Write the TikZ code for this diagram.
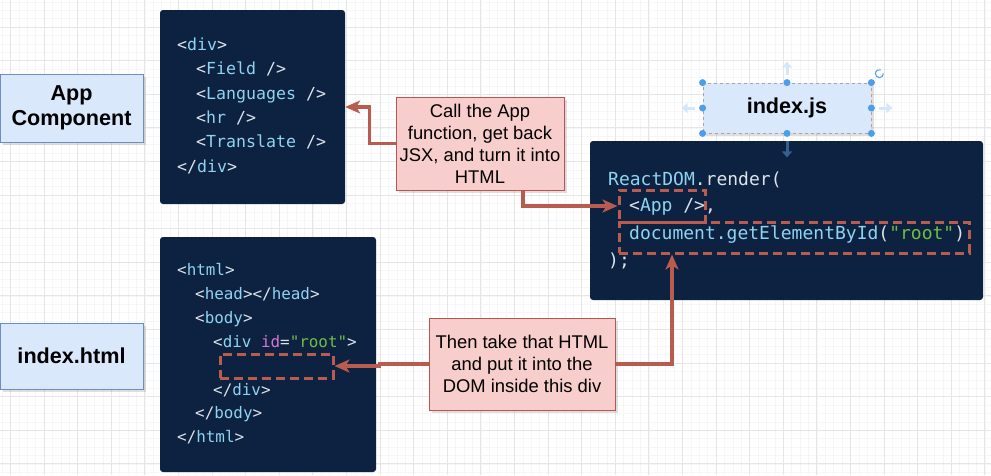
\documentclass[tikz,border=0pt]{standalone}
\usepackage{fontspec}
\setmainfont{Liberation Sans}
\newfontfamily\codefont{DejaVu Sans Mono}
\usetikzlibrary{arrows.meta,shadows}

\definecolor{navy}{HTML}{0C2240}
\definecolor{tagcol}{HTML}{8FD3F2}
\definecolor{plaincol}{HTML}{DDE3EA}
\definecolor{strcol}{HTML}{6EBE45}
\definecolor{attrcol}{HTML}{D971D6}
\definecolor{redline}{HTML}{B85C4F}
\definecolor{pinkfill}{HTML}{F8CECC}
\definecolor{pinkline}{HTML}{B85450}
\definecolor{bluefill}{HTML}{DAE8FC}
\definecolor{blueline}{HTML}{6C8EBF}
\definecolor{handleblue}{HTML}{4A9FE8}
\definecolor{handlefaint}{HTML}{D4E7F8}
\definecolor{handledark}{HTML}{36608F}
\definecolor{gridminor}{HTML}{F6F6F6}
\definecolor{gridmajor}{HTML}{E6E6E6}

\newcommand\tg[1]{\textcolor{tagcol}{#1}}
\newcommand\strg[1]{\textcolor{strcol}{#1}}
\newcommand\attrg[1]{\textcolor{attrcol}{#1}}

\tikzset{
  codeblock/.style={fill=navy, rounded corners=3pt, inner sep=0pt},
  codeline/.style={anchor=west, inner sep=0pt, text=plaincol, text height=0.85em, text depth=0.15em},
  title/.style={draw=blueline, fill=bluefill, line width=1pt, align=center,
    font=\fontsize{21.6}{25}\selectfont\bfseries, drop shadow={opacity=0.25}},
  note/.style={draw=pinkline, fill=pinkfill, line width=1pt, align=center,
    font=\fontsize{18.4}{22}\selectfont, drop shadow={opacity=0.25}},
  dashbox/.style={draw=redline, line width=3pt, dash pattern=on 9pt off 5pt, inner sep=0pt},
  edge/.style={draw=redline, line width=3.2pt, -{Stealth[length=15pt,width=13pt,inset=4pt]}},
  handlearrow/.style={draw=handlefaint, line width=3pt, -{Triangle[length=6pt,width=10pt]}}
}

\begin{document}
\begin{tikzpicture}[x=1pt, y=-1pt]
\useasboundingbox (0,0) rectangle (991,475);
\fill[white] (0,0) rectangle (991,475);

% grid
\foreach \i in {0,...,118} \draw[gridminor, line width=0.6pt] ({2+8.4*\i},0) -- ({2+8.4*\i},475);
\foreach \i in {0,...,56} \draw[gridminor, line width=0.6pt] (0,{1.8+8.4*\i}) -- (991,{1.8+8.4*\i});
\foreach \i in {0,...,29} \draw[gridmajor, line width=0.8pt] ({10.4+33.6*\i},0) -- ({10.4+33.6*\i},475);
\foreach \i in {0,...,13} \draw[gridmajor, line width=0.8pt] (0,{27+33.6*\i}) -- (991,{27+33.6*\i});

% labels
\node[title, minimum width=143, minimum height=68] (app) at (71.5,108) {App\\Component};
\node[title, minimum width=143, minimum height=66] (indexhtml) at (71.5,356) {index.html};
\node[title, draw=gray!70, line width=0.8pt, dashed, minimum width=168, minimum height=50] (js) at (787,108) {index.js};

% JSX block
\node[codeblock, minimum width=185, minimum height=194] (jsx) at (252.5,107) {};
\begin{scope}[font=\codefont\fontsize{16.6}{19}\selectfont]
\node[codeline] (jsx1) at (177,47) {<\tg{div}>};
\node[codeline] (jsx2) at (196,71) {<\tg{Field} />};
\node[codeline] (jsx3) at (196,96) {<\tg{Languages} />};
\node[codeline] (jsx4) at (196,120) {<\tg{hr} />};
\node[codeline] (jsx5) at (196,144) {<\tg{Translate} />};
\node[codeline] (jsx6) at (177,169) {</\tg{div}>};
\end{scope}

% index.js block
\node[codeblock, minimum width=393, minimum height=159] (jscode) at (786.5,220.5) {};
\begin{scope}[font=\codefont\fontsize{18}{21}\selectfont]
\node[codeline] (js1) at (608,182) {\tg{ReactDOM}.render(};
\node[codeline] (js2) at (629,208) {<\tg{App} />,};
\node[codeline] (js3) at (629,236) {\tg{document.getElementById}(\strg{"root"})};
\node[codeline] (js4) at (608,263) {);};
\end{scope}
\node[dashbox, minimum width=86, minimum height=32] (appbox) at (662,206) {};
\node[dashbox, minimum width=350, minimum height=31] (docbox) at (794,237.5) {};

% index.html block
\node[codeblock, minimum width=216, minimum height=235] (html) at (268,354.5) {};
\begin{scope}[font=\codefont\fontsize{15.9}{19}\selectfont]
\node[codeline] (html1) at (177,272) {<\tg{html}>};
\node[codeline] (html2) at (195,296) {<\tg{head}></\tg{head}>};
\node[codeline] (html3) at (195,320) {<\tg{body}>};
\node[codeline] (html4) at (213,344) {<\tg{div} \attrg{id}=\strg{"root"}>};
\node[codeline] (html5) at (213,392) {</\tg{div}>};
\node[codeline] (html6) at (195,415) {</\tg{body}>};
\node[codeline] (html7) at (177,439) {</\tg{html}>};
\end{scope}
\node[dashbox, minimum width=113, minimum height=24] (divbox) at (276.5,366) {};

% notes
\node[note, minimum width=168, minimum height=93] (p1) at (480,143.5)
  {Call the App\\function, get back\\JSX, and turn it into\\HTML};
\node[note, minimum width=186, minimum height=92] (p2) at (522,364)
  {Then take that HTML\\and put it into the\\DOM inside this div};

% connectors
\draw[edge] (p1.west) -- ++(-26,0) |- (jsx.east);
\draw[edge] ([xshift=43pt]p1.south) |- (appbox.west);
\draw[edge] (p2.east) -| ([xshift=-122pt]docbox.south);
\draw[edge] (p2.west) -- ++(-49,0) |- (divbox.east);

% selection handles on index.js
\draw[handlearrow] ([yshift=8pt]js.north) -- ([yshift=21pt]js.north);
\draw[handlearrow] ([xshift=-8pt]js.west) -- ([xshift=-21pt]js.west);
\draw[handlearrow] ([xshift=8pt]js.east) -- ([xshift=21pt]js.east);
\draw[handlearrow, draw=handledark] ([yshift=-8pt]js.south) -- ([yshift=-24pt]js.south);
\foreach \a in {north west, north, north east, east, south east, south, south west, west}
  \fill[handleblue] (js.\a) circle (3.5);
\draw[handleblue, line width=1pt] ([xshift=12pt,yshift=9pt]js.north east) arc[start angle=0, end angle=290, radius=4];
\end{tikzpicture}
\end{document}
